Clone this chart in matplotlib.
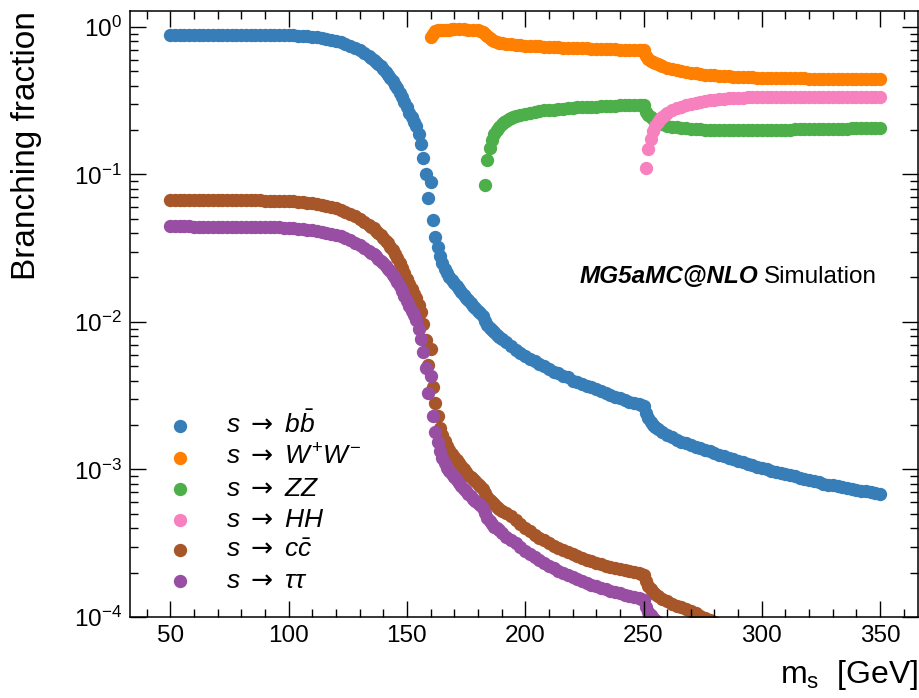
import numpy as np
import matplotlib
matplotlib.use("Agg")
import matplotlib.pyplot as plt
from matplotlib.ticker import MultipleLocator, LogLocator, NullFormatter

plt.rcParams["font.family"] = ["Liberation Sans", "DejaVu Sans"]
plt.rcParams["mathtext.fontset"] = "custom"
plt.rcParams["mathtext.rm"] = "Liberation Sans"
plt.rcParams["mathtext.it"] = "Liberation Sans:italic"
plt.rcParams["mathtext.bf"] = "Liberation Sans:bold"
plt.rcParams["mathtext.sf"] = "DejaVu Sans"


def grid(*segments):
    # scanned mass points, given as (start, stop, step) blocks, stop included
    return np.concatenate([np.arange(a, b + 1, s) for a, b, s in segments])


# scanned masses [GeV]
mass_ff = grid((50, 134, 2), (135, 190, 1), (192, 248, 2), (249, 256, 1), (258, 350, 2))
mass_ww = grid((160, 170, 1), (172, 180, 2), (181, 190, 1), (192, 248, 2), (249, 258, 1), (260, 350, 2))
mass_zz = grid((183, 195, 1), (196, 248, 2), (249, 258, 1), (260, 350, 2))
mass_hh = grid((251, 260, 1), (262, 350, 2))

# branching fractions
br_bb = [
    0.882, 0.882, 0.882, 0.882, 0.881, 0.881, 0.881, 0.881, 0.880, 0.880, 0.880, 0.880,
    0.880, 0.879, 0.879, 0.879, 0.879, 0.878, 0.878, 0.878, 0.878, 0.878, 0.878,
    0.878, 0.877, 0.876, 0.874, 0.871, 0.867, 0.862, 0.855, 0.848, 0.840, 0.830, 0.815,
    0.800, 0.785, 0.765, 0.745, 0.720, 0.695, 0.665, 0.635,
    0.618, 0.600, 0.580, 0.560, 0.540, 0.518, 0.496, 0.474, 0.452, 0.430, 0.406, 0.382,
    0.358, 0.333, 0.308, 0.284, 0.262, 0.243, 0.228, 0.214, 0.187, 0.160, 0.130, 0.101,
    0.069, 0.089, 0.0488, 0.0378, 0.032, 0.0278, 0.025, 0.0228, 0.0214, 0.0202, 0.0192,
    0.0183, 0.0175, 0.0167, 0.016, 0.0153, 0.0146, 0.014, 0.0134, 0.0129, 0.0124, 0.0119,
    0.0115, 0.011, 0.0102, 0.0095, 0.0091, 0.0088, 0.0085, 0.0082, 0.0079, 0.0077,
    0.0073, 0.0069, 0.0065, 0.0062, 0.0059, 0.0056, 0.0054, 0.0052, 0.0050, 0.0048,
    0.0046, 0.0045, 0.0043, 0.0042, 0.0040, 0.0039, 0.0038, 0.0037, 0.0036, 0.0035,
    0.0034, 0.0033, 0.0032, 0.0031, 0.00303, 0.00295, 0.00288, 0.00282, 0.00276,
    0.00273, 0.0027, 0.0024, 0.00222, 0.0021, 0.00201, 0.00194, 0.00188,
    0.00179, 0.00171, 0.00165, 0.00159, 0.00154, 0.0015, 0.00146, 0.00143, 0.0014, 0.00136,
    0.00133, 0.0013, 0.00126, 0.00123, 0.0012, 0.00117, 0.00114, 0.00112, 0.00109, 0.00107,
    0.00104, 0.00102, 0.001, 0.00098, 0.00096, 0.00094, 0.00093, 0.00091, 0.0009, 0.00088,
    0.00086, 0.00085, 0.00083, 0.00082, 0.0008, 0.00079, 0.00078, 0.00077, 0.00076, 0.00075,
    0.00074, 0.00073, 0.00072, 0.00071, 0.0007, 0.00069, 0.00068,
]

br_cc = [
    0.0675, 0.0675, 0.0675, 0.0675, 0.0675, 0.0675, 0.067, 0.067, 0.067, 0.067, 0.067,
    0.067, 0.067, 0.0667, 0.0667, 0.0667, 0.0667, 0.0667, 0.0667, 0.0667, 0.0664, 0.0664,
    0.0664,
    0.0662, 0.066, 0.0658, 0.0655, 0.0652, 0.0648, 0.0643, 0.0637, 0.063, 0.0622, 0.0612,
    0.0601, 0.0588, 0.0574, 0.0558, 0.054, 0.052, 0.050, 0.0478, 0.0455,
    0.0443, 0.043, 0.0416, 0.0402, 0.0387, 0.0372, 0.0356, 0.034, 0.0323, 0.0306, 0.0288,
    0.027, 0.0252, 0.0233, 0.0214, 0.0196, 0.018, 0.0166, 0.0155, 0.0145, 0.013, 0.0116,
    0.0097, 0.0075, 0.0051, 0.0066, 0.0036, 0.0028, 0.0023, 0.0019, 0.0017, 0.00155,
    0.00145, 0.00136, 0.00128, 0.00121, 0.00115, 0.0011, 0.00105, 0.001, 0.00096, 0.00092,
    0.00089, 0.00086, 0.00083, 0.0008, 0.00077, 0.00074, 0.00069, 0.00065, 0.00062, 0.0006,
    0.00058, 0.00056, 0.00054, 0.00052,
    0.000505, 0.00048, 0.000455, 0.000425, 0.0004, 0.00038, 0.00036, 0.000343, 0.00033,
    0.000318, 0.000305, 0.000294, 0.000284, 0.000275, 0.000266, 0.000258, 0.000251,
    0.000244, 0.000238, 0.000232, 0.000227, 0.000222, 0.000218, 0.000214, 0.00021,
    0.000207, 0.000204, 0.000201, 0.000198,
    0.000196, 0.000193, 0.000175, 0.000162, 0.000154, 0.000148, 0.000143, 0.000139,
    0.000133, 0.000128, 0.000123, 0.000119, 0.000116, 0.000113, 0.00011, 0.000106,
    0.000102, 0.000099, 0.000096, 0.000093, 0.00009, 0.000087, 0.000085, 0.000083, 0.000081,
]

br_tautau = [
    0.0445, 0.0445, 0.0445, 0.0445, 0.0445, 0.0443, 0.0443, 0.0443, 0.0443, 0.0443, 0.0443,
    0.0441, 0.0441, 0.0441, 0.0441, 0.0441, 0.0441, 0.0439, 0.0439, 0.0439, 0.0439, 0.0439,
    0.0439,
    0.0437, 0.0435, 0.0433, 0.0431, 0.0428, 0.0425, 0.0421, 0.0417, 0.0412, 0.0406, 0.0399,
    0.0395, 0.0388, 0.038, 0.037, 0.0358, 0.0345, 0.0332, 0.0318, 0.0303,
    0.0295, 0.0287, 0.0278, 0.0269, 0.026, 0.025, 0.024, 0.023, 0.022, 0.0209, 0.0198,
    0.0187, 0.0175, 0.0163, 0.0151, 0.0139, 0.0128, 0.0119, 0.0111, 0.0103, 0.0089, 0.0076,
    0.0063, 0.0049, 0.0033, 0.0043, 0.0023, 0.0018, 0.00154, 0.00134, 0.0012, 0.0011,
    0.00103, 0.00098, 0.00093, 0.00089, 0.00085, 0.00081, 0.00077, 0.00074, 0.00071,
    0.00068, 0.00066, 0.00063, 0.00061, 0.00059, 0.00057, 0.00055, 0.00051, 0.00047,
    0.00045, 0.00043, 0.00041, 0.0004, 0.00039, 0.00037,
    0.00035, 0.000332, 0.000315, 0.000297, 0.00028, 0.000267, 0.000254, 0.000242, 0.000232,
    0.000223, 0.000214, 0.000206, 0.000199, 0.000192, 0.000186, 0.00018, 0.000175, 0.00017,
    0.000166, 0.000162, 0.000158, 0.000155, 0.000151, 0.000148, 0.000145, 0.000142,
    0.000139, 0.000136, 0.000134,
    0.000133, 0.000131, 0.000117, 0.000108, 0.000103, 0.000098, 0.000095, 0.000092,
    0.000088, 0.000085, 0.000082,
]

br_ww = [
    0.848, 0.90, 0.93, 0.945, 0.95, 0.954, 0.956, 0.958, 0.959, 0.96, 0.96,
    0.96, 0.96, 0.959, 0.957, 0.95,
    0.94, 0.92, 0.89, 0.86, 0.835, 0.815, 0.80, 0.79, 0.782, 0.776,
    0.767, 0.76, 0.754, 0.749, 0.745, 0.742, 0.739, 0.736, 0.733, 0.731, 0.728, 0.726,
    0.724, 0.722, 0.72, 0.718, 0.716, 0.714, 0.712, 0.71, 0.708, 0.706, 0.705, 0.703,
    0.701, 0.70, 0.698, 0.697, 0.695,
    0.694, 0.692, 0.63, 0.605, 0.59, 0.578, 0.567, 0.557, 0.549, 0.541,
    0.53, 0.52, 0.51, 0.502, 0.495, 0.489, 0.484, 0.479, 0.475, 0.472,
    0.469, 0.466, 0.464, 0.462, 0.46, 0.458, 0.457, 0.455, 0.454, 0.453,
    0.452, 0.451, 0.45, 0.449, 0.449, 0.448, 0.448, 0.447, 0.447, 0.447,
    0.446, 0.446, 0.446, 0.446, 0.446, 0.446, 0.446, 0.446, 0.446, 0.446,
    0.446, 0.446, 0.446, 0.446, 0.446, 0.446,
]

br_zz = [
    0.0847, 0.125, 0.152, 0.172, 0.188, 0.20, 0.21, 0.218, 0.225, 0.231, 0.236, 0.241, 0.245,
    0.249, 0.254, 0.258, 0.262, 0.265, 0.268, 0.271, 0.273, 0.275, 0.277, 0.279, 0.281,
    0.283, 0.284, 0.285, 0.286, 0.287, 0.288, 0.289, 0.29, 0.291, 0.292, 0.293, 0.294,
    0.294, 0.295, 0.295,
    0.295, 0.293, 0.265, 0.252, 0.243, 0.236, 0.23, 0.225, 0.221, 0.218,
    0.214, 0.211, 0.209, 0.207, 0.205, 0.204, 0.203, 0.202, 0.201, 0.20,
    0.20, 0.20, 0.20, 0.20, 0.20, 0.20, 0.20, 0.20, 0.20, 0.20,
    0.20, 0.20, 0.20, 0.201, 0.201, 0.201, 0.201, 0.202, 0.202, 0.202,
    0.202, 0.203, 0.203, 0.203, 0.203, 0.204, 0.204, 0.204, 0.204, 0.205,
    0.205, 0.205, 0.205, 0.206, 0.206, 0.206,
]

br_hh = [
    0.111, 0.148, 0.175, 0.196, 0.212, 0.225, 0.236, 0.245, 0.253, 0.26,
    0.271, 0.28, 0.288, 0.295, 0.301, 0.306, 0.31, 0.314, 0.318, 0.321,
    0.323, 0.325, 0.327, 0.329, 0.33, 0.331, 0.332, 0.333, 0.334, 0.335,
    0.335, 0.336, 0.336, 0.336, 0.337, 0.337, 0.337, 0.337, 0.337, 0.337,
    0.337, 0.337, 0.337, 0.337, 0.336, 0.336, 0.336, 0.336, 0.336, 0.335,
    0.335, 0.335, 0.335, 0.334, 0.334,
]

arrow = r"\ \mathsf{\rightarrow}\ "
series = [
    (mass_ff, br_bb, "#377eb8", r"$s" + arrow + r"b\bar{b}$"),
    (mass_ww, br_ww, "#ff7f00", r"$s" + arrow + r"W^{+}W^{-}$"),
    (mass_zz, br_zz, "#4daf4a", r"$s" + arrow + r"ZZ$"),
    (mass_hh, br_hh, "#f781bf", r"$s" + arrow + r"HH$"),
    (mass_ff, br_cc, "#a65628", r"$s" + arrow + r"c\bar{c}$"),
    (mass_ff, br_tautau, "#984ea3", r"$s" + arrow + r"\tau\tau$"),
]

fig = plt.figure(figsize=(9.2, 6.98), dpi=100)
ax = fig.add_axes([130 / 920, 1 - 617 / 698, 788 / 920, 606 / 698])

for mass, br, color, label in series:
    n = min(len(mass), len(br))
    ax.scatter(mass[:n], br[:n], s=92, color=color, linewidths=0, label=label)

ax.set_yscale("log")
ax.set_xlim(33, 366)
ax.set_ylim(1e-4, 1.28)

ax.xaxis.set_major_locator(MultipleLocator(50))
ax.xaxis.set_minor_locator(MultipleLocator(10))
ax.yaxis.set_major_locator(LogLocator(base=10, numticks=10))
ax.yaxis.set_minor_locator(LogLocator(base=10, subs=np.arange(2, 10), numticks=20))
ax.yaxis.set_minor_formatter(NullFormatter())

ax.tick_params(which="both", direction="in", top=True, right=True, labelsize=17.5)
ax.tick_params(which="major", length=11.5, width=1.0)
ax.tick_params(which="minor", length=5.8, width=1.0)
ax.tick_params(axis="y", pad=6)
ax.tick_params(axis="x", pad=6)
for sp in ax.spines.values():
    sp.set_linewidth(1.1)

ax.set_ylabel("Branching fraction", fontsize=24, loc="top")
ax.yaxis.set_label_coords(-0.112, 1.0)
ax.set_xlabel(r"m$_{\mathrm{s}}$  [GeV]", fontsize=23, loc="right")
ax.xaxis.set_label_coords(1.0, -0.068)

ax.legend(loc="lower left", frameon=False, fontsize=19, scatterpoints=1,
          handlelength=2.0, handletextpad=0.75, labelspacing=0.26,
          borderaxespad=0.5, borderpad=0.4)

# generator label, bold italic part followed by plain text
sim = ax.text(0.948, 0.551, "Simulation", transform=ax.transAxes,
              ha="right", va="baseline", fontsize=17.5)
fig.canvas.draw()
x_left = sim.get_window_extent().x0 - 6
x_ax = ax.transAxes.inverted().transform((x_left, 0))[0]
ax.text(x_ax, 0.551, "MG5aMC@NLO", transform=ax.transAxes, ha="right", va="baseline",
        fontsize=17.5, fontweight="bold", fontstyle="italic")

fig.savefig("out.png", dpi=100)
